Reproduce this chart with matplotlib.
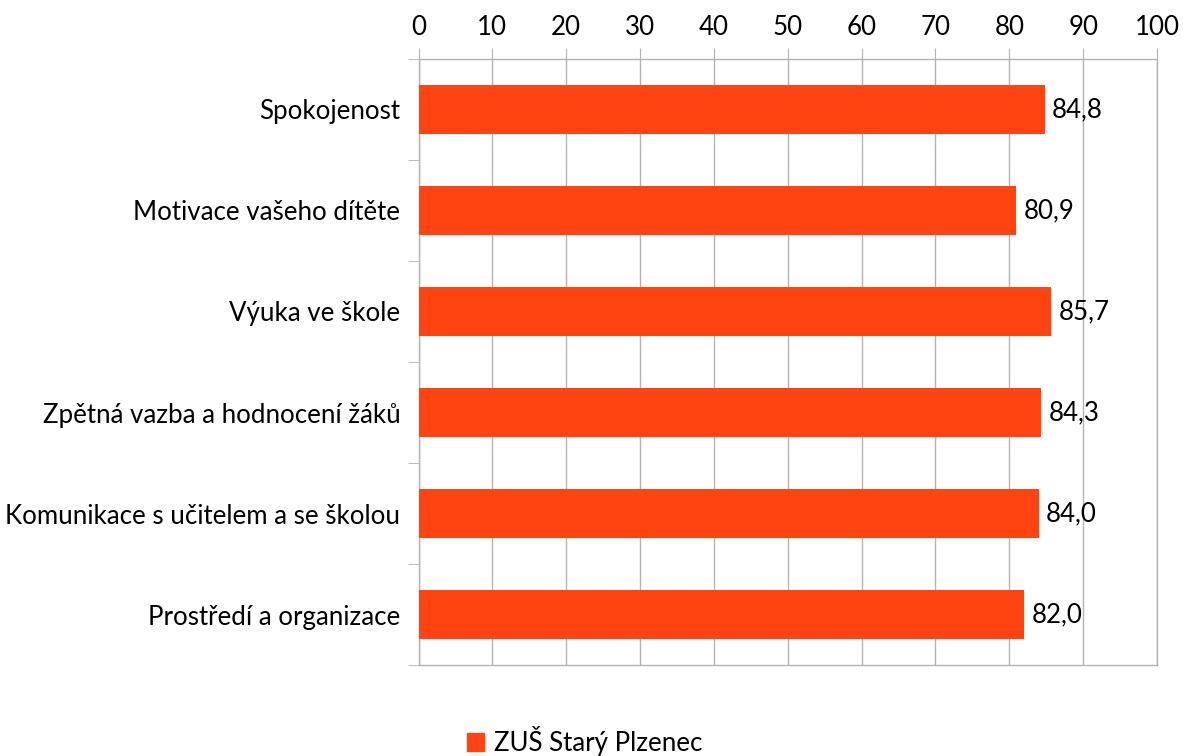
import matplotlib
matplotlib.use("Agg")
import matplotlib.pyplot as plt
from matplotlib.patches import Patch
import numpy as np

categories = ["Spokojenost", "Motivace vašeho dítěte", "Výuka ve škole",
              "Zpětná vazba a hodnocení žáků", "Komunikace s učitelem a se školou",
              "Prostředí a organizace"]
values = [84.8, 80.9, 85.7, 84.3, 84.0, 82.0]
series_name = "ZUŠ Starý Plzenec"
xticks = [0, 10, 20, 30, 40, 50, 60, 70, 80, 90, 100]

plt.rcParams['font.family'] = ['Lato', 'DejaVu Sans']
FS = 18.6
bar_color = "#FF4411"
grid_color = "#b3b3b3"

fig = plt.figure(figsize=(11.83, 7.56), dpi=100)
ax = fig.add_axes([418.5/1183, 1-665/756, (1157-418.5)/1183, (665-59)/756])

y = np.arange(len(categories))
ax.barh(y, values, height=0.49, color=bar_color, zorder=3)
for yi, v in zip(y, values):
    ax.text(v + 1.0, yi, f"{v:.1f}".replace(".", ","), va="center", ha="left",
            fontsize=FS, color="black", zorder=4)

ax.set_xlim(0, 100)
ax.set_ylim(len(categories) - 0.5, -0.5)
ax.xaxis.tick_top()
ax.set_xticks(xticks)
ax.set_xticklabels([str(t) for t in xticks], fontsize=FS)
ax.tick_params(axis='x', which='major', length=8, color=grid_color, pad=6)
ax.set_yticks(y)
ax.set_yticklabels(categories, fontsize=FS)
ax.tick_params(axis='y', which='major', length=0, pad=13)
ax.set_yticks(np.arange(-0.5, len(categories) + 0.5, 1), minor=True)
ax.tick_params(axis='y', which='minor', length=8, color=grid_color)
ax.grid(axis='x', color=grid_color, linewidth=1, zorder=0)
for s in ax.spines.values():
    s.set_color(grid_color)
    s.set_linewidth(1)

fig.legend(handles=[Patch(color=bar_color, label=series_name)],
           loc="center", bbox_to_anchor=(585/1183, 1-741/756), frameon=False,
           fontsize=FS, handlelength=0.65, handleheight=0.65, handletextpad=0.4)

fig.savefig("out.png", dpi=100)
